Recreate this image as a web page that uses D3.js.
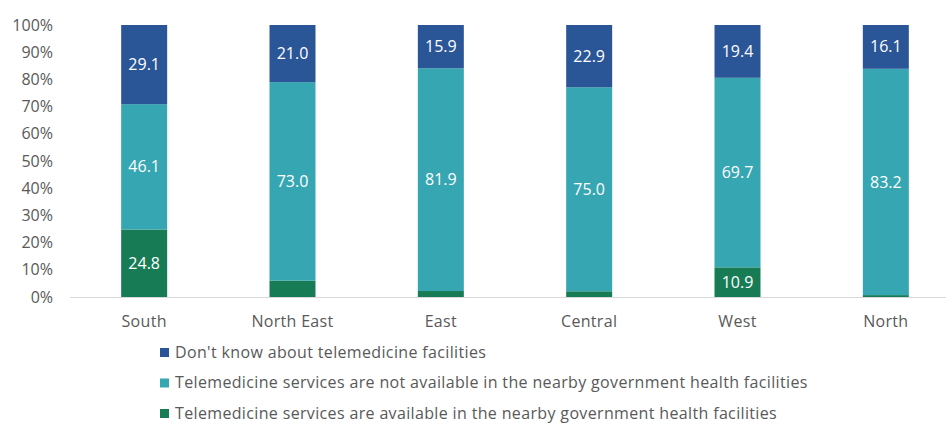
<!DOCTYPE html>
<html>
<head>
<meta charset="utf-8">
<script src="https://cdn.jsdelivr.net/npm/d3@7"></script>
<style>
  body { margin: 0; background: #fff; }
  svg { font-family: "Open Sans", sans-serif; }
</style>
</head>
<body>
<div id="chart"></div>
<script>
const W = 948, H = 425;

const regions = ["South", "North East", "East", "Central", "West", "North"];
const available = [24.8, 6.0, 2.2, 2.1, 10.9, 0.7];
const notAvailable = [46.1, 73.0, 81.9, 75.0, 69.7, 83.2];
const dontKnow = [29.1, 21.0, 15.9, 22.9, 19.4, 16.1];
const yTicks = [0, 10, 20, 30, 40, 50, 60, 70, 80, 90, 100];

const series = [
  { name: "Telemedicine services are available in the nearby government health facilities", values: available, color: "#177C56" },
  { name: "Telemedicine services are not available in the nearby government health facilities", values: notAvailable, color: "#36A6B2" },
  { name: "Don't know about telemedicine facilities", values: dontKnow, color: "#2A5597" }
];

const svg = d3.select("#chart").append("svg").attr("width", W).attr("height", H);

const x = d3.scaleBand().domain(regions).range([70, 960]).paddingInner(0.69).paddingOuter(0.345);
const y = d3.scaleLinear().domain([0, 100]).range([297, 25]);

// y axis labels
svg.append("g").selectAll("text").data(yTicks).enter().append("text")
  .attr("x", 53).attr("y", d => y(d)).attr("dy", "0.35em")
  .attr("text-anchor", "end").attr("font-size", 16).attr("fill", "#595959")
  .text(d => d + "%");

// stacked bars
const rows = regions.map((r, i) => {
  const o = { region: r };
  series.forEach((s, k) => o["s" + k] = s.values[i]);
  return o;
});
const stack = d3.stack().keys(series.map((s, k) => "s" + k))(rows);

stack.forEach((layer, k) => {
  const g = svg.append("g");
  g.selectAll("rect").data(layer).enter().append("rect")
    .attr("x", d => x(d.data.region))
    .attr("width", x.bandwidth())
    .attr("y", d => y(d[1]))
    .attr("height", d => y(d[0]) - y(d[1]))
    .attr("fill", series[k].color);
  g.selectAll("text").data(layer.filter(d => d[1] - d[0] >= 10)).enter().append("text")
    .attr("x", d => x(d.data.region) + x.bandwidth() / 2)
    .attr("y", d => y((d[0] + d[1]) / 2)).attr("dy", "0.35em")
    .attr("text-anchor", "middle").attr("font-size", 16).attr("fill", "#fff")
    .text(d => (d[1] - d[0]).toFixed(1));
});

// baseline
svg.append("line").attr("x1", 70).attr("x2", 946).attr("y1", y(0) + 0.5).attr("y2", y(0) + 0.5)
  .attr("stroke", "#d9d9d9").attr("stroke-width", 1);

// x labels
svg.append("g").selectAll("text").data(regions).enter().append("text")
  .attr("x", d => x(d) + x.bandwidth() / 2).attr("y", 321).attr("dy", "0.35em")
  .attr("text-anchor", "middle").attr("font-size", 16).attr("fill", "#595959")
  .style("letter-spacing", "0.3px")
  .text(d => d);

// legend
const legendOrder = [series[2], series[1], series[0]];
const lg = svg.append("g").selectAll("g").data(legendOrder).enter().append("g")
  .attr("transform", (d, i) => `translate(160,${352 + i * 30.5})`);
lg.append("rect").attr("x", 0).attr("y", -4).attr("width", 9).attr("height", 9).attr("fill", d => d.color);
lg.append("text").attr("x", 15).attr("y", 0).attr("dy", "0.35em")
  .attr("font-size", 16).attr("fill", "#595959").style("letter-spacing", "0.35px")
  .text(d => d.name);
</script>
</body>
</html>
